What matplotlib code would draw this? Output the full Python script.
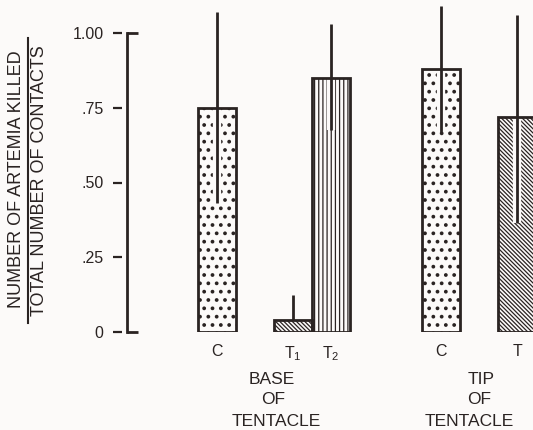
import matplotlib
matplotlib.use('Agg')
import matplotlib.pyplot as plt
import matplotlib.patheffects as pe
from matplotlib.lines import Line2D
from matplotlib.transforms import blended_transform_factory

plt.rcParams['font.family'] = ['Liberation Sans', 'DejaVu Sans']
plt.rcParams['mathtext.fontset'] = 'custom'
plt.rcParams['mathtext.rm'] = 'Liberation Sans'

# killed / contacts for each treatment
labels = ['C', r'$\mathregular{T_1}$', r'$\mathregular{T_2}$', 'C', 'T']
ratio = [0.75, 0.04, 0.85, 0.88, 0.72]
err_low = [0.32, 0.0, 0.175, 0.21, 0.355]
err_high = [0.32, 0.085, 0.18, 0.21, 0.34]
hatches = ['..', '\\' * 8, '||||', '..', '\\' * 8]
hatch_lw = [1.5, 0.9, 0.9, 1.5, 0.9]
yvals = [0, 0.25, 0.5, 0.75, 1.0]
ylabels = ['0', '.25', '.50', '.75', '1.00']

xpos = [0, 2, 3, 5.9, 7.9]
ink = '#2a2322'
bg = '#fcfaf9'
plt.rcParams['hatch.color'] = ink

fig = plt.figure(figsize=(5.33, 4.30), dpi=100, facecolor=bg)
W, H = 533, 430
ax = fig.add_axes([127 / W, 98 / H, 406 / W, 299 / H])
ax.set_facecolor(bg)

# hatched bars, then error bars with a blank halo, then outlines on top
bars = ax.bar(xpos, ratio, width=1.0, color=bg, edgecolor=ink, hatch=hatches,
              linewidth=0, zorder=2)
for b, lw in zip(bars, hatch_lw):
    b.set_hatch_linewidth(lw)
eb = ax.errorbar(xpos, ratio, yerr=[err_low, err_high], fmt='none',
                 ecolor=ink, elinewidth=2, capsize=0, zorder=3)
for lc in eb[2]:
    lc.set_clip_on(False)
    lc.set_path_effects([pe.Stroke(linewidth=6, foreground=bg), pe.Normal()])
ax.bar(xpos, ratio, width=1.0, fill=False, edgecolor=ink, linewidth=2,
       zorder=4)

ax.set_xlim(-2.37, 8.32)
ax.set_ylim(0, 1)

for s in ['top', 'right', 'bottom']:
    ax.spines[s].set_visible(False)
ax.spines['left'].set_color(ink)
ax.spines['left'].set_linewidth(2)

# bracket ends on the axis and detached tick dashes
trans = blended_transform_factory(ax.transAxes, ax.transData)
for v in [0, 1]:
    ax.plot([0, 11 / 406], [v, v], color=ink, lw=2, transform=trans,
            clip_on=False, solid_capstyle='butt')
for v in yvals:
    ax.plot([-14 / 406, -5 / 406], [v, v], color=ink, lw=1.6,
            transform=trans, clip_on=False, solid_capstyle='butt')

ax.set_yticks(yvals, ylabels)
ax.tick_params(axis='y', length=0, pad=17, labelsize=11.5, labelcolor=ink)
ax.set_xticks(xpos, labels)
ax.tick_params(axis='x', length=0, pad=9, labelsize=11.5, labelcolor=ink)

# group captions under the bars
tx = blended_transform_factory(ax.transData, fig.transFigure)
for x, y, s in [(1.45, 379, 'BASE'), (1.47, 400, 'OF'), (1.55, 421, 'TENTACLE'),
                (6.95, 379, 'TIP'), (6.9, 400, 'OF'), (6.63, 421, 'TENTACLE')]:
    ax.text(x, 1 - y / H, s, transform=tx, ha='center', va='center',
            fontsize=12.5, color=ink)

# y-axis label written as a fraction
fig.text(17 / W, 1 - 179 / H, 'NUMBER OF ARTEMIA KILLED', rotation=90,
         ha='center', va='center', fontsize=13, color=ink)
fig.text(40 / W, 1 - 181 / H, 'TOTAL NUMBER OF CONTACTS', rotation=90,
         ha='center', va='center', fontsize=13, color=ink)
fig.add_artist(Line2D([28 / W, 28 / W], [1 - 38 / H, 1 - 323 / H],
                      color=ink, lw=1.5, transform=fig.transFigure))

fig.savefig('out.png', dpi=100, facecolor=bg)
